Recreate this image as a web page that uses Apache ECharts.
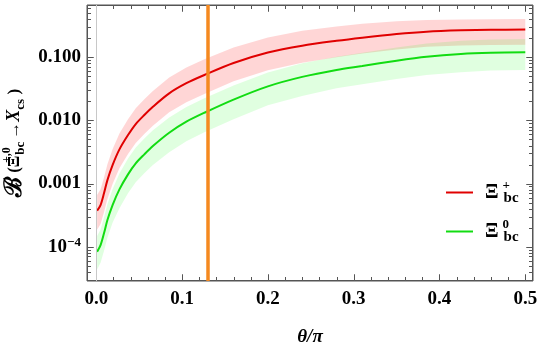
<!DOCTYPE html>
<html>
<head>
<meta charset="utf-8">
<script src="https://cdn.jsdelivr.net/npm/echarts@6/dist/echarts.min.js"></script>
<style>
  html, body { margin: 0; padding: 0; background: #fff; }
  #chart { width: 540px; height: 342px; }
</style>
</head>
<body>
<div id="chart"></div>
<script>
  // theta / pi
  var theta = [0.001, 0.005, 0.009, 0.013, 0.019, 0.027, 0.037, 0.046, 0.056, 0.066, 0.085, 0.105, 0.126,
               0.16, 0.2, 0.24, 0.28, 0.31, 0.35, 0.385, 0.425, 0.46, 0.5];

  // B(Xi_bc^+ -> X_cs), central line and band
  var xiPlus     = [3.72e-4, 4.57e-4, 7.0e-4, 1.135e-3, 1.96e-3, 3.48e-3, 5.87e-3, 8.77e-3, 0.0122, 0.0165, 0.0269, 0.0389, 0.0525,
                    0.0813, 0.119, 0.153, 0.183, 0.205, 0.234, 0.255, 0.268, 0.274, 0.275];
  var xiPlusHigh = [6.6e-4, 8.13e-4, 1.245e-3, 2.02e-3, 3.49e-3, 6.19e-3, 0.01045, 0.0156, 0.0217, 0.0293, 0.0478, 0.0692, 0.0933,
                    0.143, 0.207, 0.263, 0.307, 0.34, 0.372, 0.389, 0.398, 0.403, 0.405];
  var xiPlusLow  = [1.86e-4, 2.29e-4, 3.51e-4, 5.69e-4, 9.84e-4, 1.746e-3, 2.94e-3, 4.4e-3, 6.11e-3, 8.26e-3, 0.01346, 0.0195, 0.0263,
                    0.0417, 0.0624, 0.0822, 0.1005, 0.115, 0.133, 0.1466, 0.154, 0.157, 0.158];

  // B(Xi_bc^0 -> X_cs), central line and band
  var xiZero     = [8.3e-5, 1.06e-4, 1.63e-4, 2.64e-4, 4.56e-4, 8.09e-4, 1.40e-3, 2.09e-3, 2.90e-3, 3.93e-3, 6.38e-3, 9.55e-3, 0.01324,
                    0.0214, 0.0347, 0.049, 0.0631, 0.0728, 0.0883, 0.102, 0.113, 0.118, 0.120];
  var xiZeroHigh = [1.476e-4, 1.88e-4, 2.89e-4, 4.70e-4, 8.11e-4, 1.44e-3, 2.49e-3, 3.72e-3, 5.16e-3, 6.98e-3, 0.01109, 0.0164, 0.0225,
                    0.0359, 0.0575, 0.0804, 0.102, 0.118, 0.143, 0.166, 0.183, 0.192, 0.195];
  var xiZeroLow  = [4.36e-5, 5.56e-5, 8.53e-5, 1.387e-4, 2.39e-4, 4.06e-4, 7.02e-4, 1.047e-3, 1.455e-3, 1.968e-3, 3.13e-3, 4.68e-3, 6.49e-3,
                    0.01047, 0.0174, 0.0245, 0.0324, 0.0373, 0.0453, 0.0525, 0.0578, 0.0621, 0.063];

  var thetaMark = 0.1275;

  var xMin = -0.0108, xMax = 0.509;
  var yMin = 2.86e-5, yMax = 0.675;

  var xMajorTicks = [0, 0.1, 0.2, 0.3, 0.4, 0.5];
  var xMinorTicks = [0.02, 0.04, 0.06, 0.08, 0.12, 0.14, 0.16, 0.18, 0.22, 0.24, 0.26, 0.28,
                     0.32, 0.34, 0.36, 0.38, 0.42, 0.44, 0.46, 0.48];
  var yMajorTicks = [1e-4, 1e-3, 1e-2, 1e-1];
  var yMajorLabels = ['10{sup|\u22124}', '0.001', '0.010', '0.100'];
  var yMinorTicks = [];
  [1e-5, 1e-4, 1e-3, 1e-2, 1e-1].forEach(function (d) {
    for (var m = 2; m <= 9; m++) {
      var v = m * d;
      if (v > yMin && v < yMax) yMinorTicks.push(v);
    }
  });

  var serif = "'Liberation Serif', 'Times New Roman', serif";

  function pairs(xs, ys) {
    return xs.map(function (x, i) { return [x, ys[i]]; });
  }

  // a band polygon: upper edge left to right, lower edge back
  function bandRenderer(hi, lo, color) {
    return function (params, api) {
      var pts = [];
      for (var i = 0; i < theta.length; i++) pts.push(api.coord([theta[i], hi[i]]));
      for (var j = theta.length - 1; j >= 0; j--) pts.push(api.coord([theta[j], lo[j]]));
      return { type: 'polygon', shape: { points: pts }, style: { fill: color } };
    };
  }

  function withLen(list, len) {
    return list.map(function (v) { return [v, len]; });
  }
  var xTicks = withLen(xMajorTicks, 6).concat(withLen(xMinorTicks, 3.5))
    .sort(function (a, b) { return a[0] - b[0]; });
  var yTicks = withLen(yMajorTicks, 6).concat(withLen(yMinorTicks, 3.5))
    .sort(function (a, b) { return a[0] - b[0]; });

  // one polyline running round the frame, with inward spikes for the ticks
  function frameTicks(params, api) {
    var c0 = api.coord([xMin, yMin]), c1 = api.coord([xMax, yMax]);
    var l = Math.round(c0[0]) + 0.5, b = Math.round(c0[1]) - 0.5;
    var r = Math.round(c1[0]) - 0.5, t = Math.round(c1[1]) + 0.5;
    var pts = [[l, b]], i, p;
    for (i = 0; i < xTicks.length; i++) {
      p = Math.round(api.coord([xTicks[i][0], 0.01])[0]) + 0.5;
      pts.push([p, b], [p, b - xTicks[i][1]], [p, b]);
    }
    pts.push([r, b]);
    for (i = 0; i < yTicks.length; i++) {
      p = Math.round(api.coord([0.2, yTicks[i][0]])[1]) + 0.5;
      pts.push([r, p], [r - yTicks[i][1], p], [r, p]);
    }
    pts.push([r, t]);
    for (i = xTicks.length - 1; i >= 0; i--) {
      p = Math.round(api.coord([xTicks[i][0], 0.01])[0]) + 0.5;
      pts.push([p, t], [p, t + xTicks[i][1]], [p, t]);
    }
    pts.push([l, t]);
    for (i = yTicks.length - 1; i >= 0; i--) {
      p = Math.round(api.coord([0.2, yTicks[i][0]])[1]) + 0.5;
      pts.push([l, p], [l + yTicks[i][1], p], [l, p]);
    }
    pts.push([l, b]);
    return {
      type: 'polyline', shape: { points: pts },
      style: { stroke: '#555', lineWidth: 1, fill: null, lineJoin: 'bevel' }
    };
  }

  var legendNames = { plus: '{xi|\u039E}{sup|+}{sub|bc}', zero: '{xi|\u039E}{sup|0}{sub|bc}' };

  var chart = echarts.init(document.getElementById('chart'));
  chart.setOption({
    animation: false,
    grid: {
      left: 87, right: 7, top: 5, bottom: 61,
      outerBoundsMode: 'none', containLabel: false,
      show: true, borderColor: '#555', borderWidth: 1, backgroundColor: '#fff'
    },
    legend: {
      data: ['plus', 'zero'],
      orient: 'vertical',
      left: 441, top: 174,
      icon: 'rect', itemWidth: 27, itemHeight: 2, itemGap: 12,
      formatter: function (n) { return legendNames[n]; },
      textStyle: {
        color: '#000', fontFamily: serif, fontWeight: 'bold',
        rich: {
          xi: { fontSize: 20, fontFamily: serif, fontWeight: 'bold', padding: [0, 1, 0, 7], lineHeight: 27 },
          sup: { fontSize: 13, fontFamily: serif, fontWeight: 'bold', verticalAlign: 'top', align: 'left', width: 1, padding: [0, 0, 0, 3], lineHeight: 13 },
          sub: { fontSize: 15, fontFamily: serif, fontWeight: 'bold', verticalAlign: 'bottom', lineHeight: 15 }
        }
      }
    },
    xAxis: {
      type: 'value', min: xMin, max: xMax,
      axisLine: { show: false }, axisTick: { show: false }, splitLine: { show: false },
      axisLabel: {
        margin: 9, color: '#000', fontFamily: serif, fontWeight: 'bold', fontSize: 19,
        formatter: function (v) {
          return Math.abs(v * 10 - Math.round(v * 10)) < 1e-6 ? v.toFixed(1) : '';
        }
      },
      name: '\u03B8/\u03C0', nameLocation: 'middle', nameGap: 47,
      nameTextStyle: { color: '#000', fontFamily: serif, fontWeight: 'bold', fontStyle: 'italic', fontSize: 19 }
    },
    yAxis: {
      type: 'log', logBase: 10, min: yMin, max: yMax,
      axisLine: { show: false }, axisTick: { show: false }, splitLine: { show: false },
      axisLabel: {
        margin: 6, color: '#000', fontFamily: serif, fontWeight: 'bold', fontSize: 19,
        formatter: function (v) {
          for (var i = 0; i < yMajorTicks.length; i++) {
            if (Math.abs(v / yMajorTicks[i] - 1) < 1e-6) return yMajorLabels[i];
          }
          return '';
        },
        rich: {
          sup: { fontSize: 13, fontFamily: serif, fontWeight: 'bold', color: '#000', verticalAlign: 'top', padding: [0, 0, 9, 0] }
        }
      },
      name: '{B|\u212C}{p| (}{xi|\u039E}{sup|+,0}{sub|bc}{ar|\u2192}{X|X}{sub2|cs}{p| )}',
      nameLocation: 'middle', nameRotate: 90, nameGap: 55,
      nameTextStyle: {
        color: '#000', fontFamily: serif, fontWeight: 'bold', fontSize: 17,
        rich: {
          B: { fontSize: 24, fontFamily: serif, fontWeight: 'bold', lineHeight: 26 },
          p: { fontSize: 17, fontFamily: serif },
          xi: { fontSize: 17, fontFamily: serif, fontWeight: 'bold' },
          sup: { fontSize: 12, fontFamily: serif, fontWeight: 'bold', verticalAlign: 'top', align: 'left', width: 1, lineHeight: 12 },
          sub: { fontSize: 13, fontFamily: serif, fontWeight: 'bold', verticalAlign: 'bottom', lineHeight: 13 },
          ar: { fontSize: 17, fontFamily: serif, fontWeight: 'bold', padding: [0, 0, 0, 3] },
          X: { fontSize: 18, fontFamily: serif, fontWeight: 'bold', fontStyle: 'italic' },
          sub2: { fontSize: 13, fontFamily: serif, fontWeight: 'bold', verticalAlign: 'bottom', lineHeight: 13 }
        }
      }
    },
    series: [
      {
        type: 'custom', silent: true, clip: true, z: 1,
        renderItem: bandRenderer(xiPlusHigh, xiPlusLow, 'rgba(255,0,0,0.16)'),
        data: [[theta[0], xiPlus[0]]]
      },
      {
        type: 'custom', silent: true, clip: true, z: 1,
        renderItem: bandRenderer(xiZeroHigh, xiZeroLow, 'rgba(0,255,0,0.12)'),
        data: [[theta[0], xiZero[0]]]
      },
      {
        type: 'custom', silent: true, clip: true, z: 1,
        renderItem: frameTicks,
        data: [[theta[0], xiPlus[0]]]
      },
      {
        name: 'plus', type: 'line', data: pairs(theta, xiPlus), smooth: 0.3,
        symbol: 'none', color: '#e00000', lineStyle: { color: '#e00000', width: 2 }, z: 3,
        markLine: {
          silent: true, symbol: ['none', 'none'], label: { show: false },
          data: [
            { xAxis: 0, lineStyle: { color: '#c8c8c8', width: 1, type: 'solid' } }
          ]
        }
      },
      {
        name: 'zero', type: 'line', data: pairs(theta, xiZero), smooth: 0.3,
        symbol: 'none', color: '#12dc12', lineStyle: { color: '#12dc12', width: 2 }, z: 3,
        markLine: {
          silent: true, symbol: ['none', 'none'], label: { show: false },
          data: [
            { xAxis: thetaMark, lineStyle: { color: '#f5891f', width: 3.5, type: 'solid' } }
          ]
        }
      }
    ]
  });
</script>
</body>
</html>
